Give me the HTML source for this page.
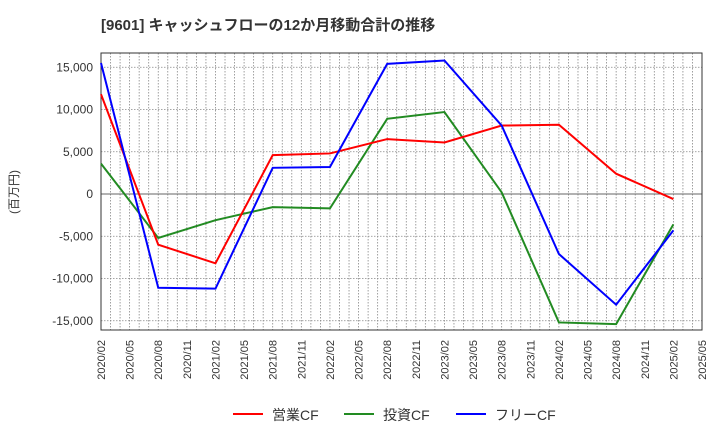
<!DOCTYPE html>
<html><head><meta charset="utf-8"><style>
body{margin:0;background:#fff;width:720px;height:440px;overflow:hidden;font-family:"Liberation Sans","Noto Sans CJK JP",sans-serif}
</style></head><body>
<svg id="chart" width="720" height="440" xmlns="http://www.w3.org/2000/svg" font-family="Liberation Sans, Noto Sans CJK JP, sans-serif">
<text x="101" y="30" font-size="15" font-weight="bold" fill="#333">[9601]  キャッシュフローの12か月移動合計の推移</text>
<text transform="translate(18,192) rotate(-90)" text-anchor="middle" font-size="12" fill="#333">(百万円)</text>
<g id="grid"></g><g id="axes"></g><g id="series"></g>
<g>
<line x1="233" y1="414" x2="263" y2="414" stroke="#ff0000" stroke-width="2"/>
<text x="272" y="420" font-size="14" fill="#333">営業CF</text>
<line x1="344" y1="414" x2="374" y2="414" stroke="#228b22" stroke-width="2"/>
<text x="383" y="420" font-size="14" fill="#333">投資CF</text>
<line x1="456" y1="414" x2="486" y2="414" stroke="#0000ff" stroke-width="2"/>
<text x="495" y="420" font-size="14" fill="#333">フリーCF</text>
</g>
</svg>
<script>
const monthIdx=[0,6,12,18,24,30,36,42,48,54,60];
const operatingCF=[11800,-6000,-8200,4600,4800,6500,6100,8100,8200,2400,-600];
const investingCF=[3600,-5200,-3100,-1550,-1700,8900,9700,200,-15200,-15400,-3600];
const freeCF=[15500,-11100,-11200,3100,3200,15400,15800,8100,-7100,-13100,-4300];
const yTicks=[15000,10000,5000,0,-5000,-10000,-15000];
const yTickLabels=["15,000","10,000","5,000","0","-5,000","-10,000","-15,000"];
const xTickLabels=["2020/02","2020/05","2020/08","2020/11","2021/02","2021/05","2021/08","2021/11","2022/02","2022/05","2022/08","2022/11","2023/02","2023/05","2023/08","2023/11","2024/02","2024/05","2024/08","2024/11","2025/02","2025/05"];
const L=101,R=702,T=53,B=330,ZERO=194,PER=8.45/1000,MONTHS=63;
const NS="http://www.w3.org/2000/svg";
function X(m){return L+(R-L)*m/MONTHS;}
function Y(v){return ZERO-v*PER;}
function mk(tag,attrs,parent){const e=document.createElementNS(NS,tag);for(const k in attrs)e.setAttribute(k,attrs[k]);document.getElementById(parent).appendChild(e);return e;}
for(let m=1;m<MONTHS;m++){
 const g=mk('line',{x1:X(m),x2:X(m),y1:T,y2:B,stroke:'#888','stroke-width':0.8,'stroke-dasharray':'1.5,1.5'},'grid');
 
 
}
yTicks.forEach((v,i)=>{
 const g=mk('line',{x1:L,x2:R,y1:Y(v),y2:Y(v),stroke:v===0?'#666':'#888','stroke-width':v===0?1:0.8,'stroke-dasharray':v===0?'':'1.5,1.5'},'grid');
 
 
 const t=mk('text',{x:L-8,y:Y(v)+4,'text-anchor':'end','font-size':12,fill:'#333'},'axes');
 t.textContent=yTickLabels[i];
 
 
});
xTickLabels.forEach((s,i)=>{
 const x=X(i*3);
 const t=mk('text',{transform:`translate(${x+4},340) rotate(-90)`,'text-anchor':'end','font-size':11,fill:'#333'},'axes');
 t.textContent=s;
 
 
});
const fr=mk('rect',{x:L,y:T,width:R-L,height:B-T,fill:'none',stroke:'#333','stroke-width':1},'axes');


function line(arr,color,name){
 const p=mk('polyline',{points:arr.map((v,i)=>X(monthIdx[i])+','+Y(v)).join(' '),fill:'none',stroke:color,'stroke-width':2},'series');
 
 
}
line(investingCF,'#228b22','investing-cf-line');
line(operatingCF,'#ff0000','operating-cf-line');
line(freeCF,'#0000ff','free-cf-line');
</script>
</body></html>
